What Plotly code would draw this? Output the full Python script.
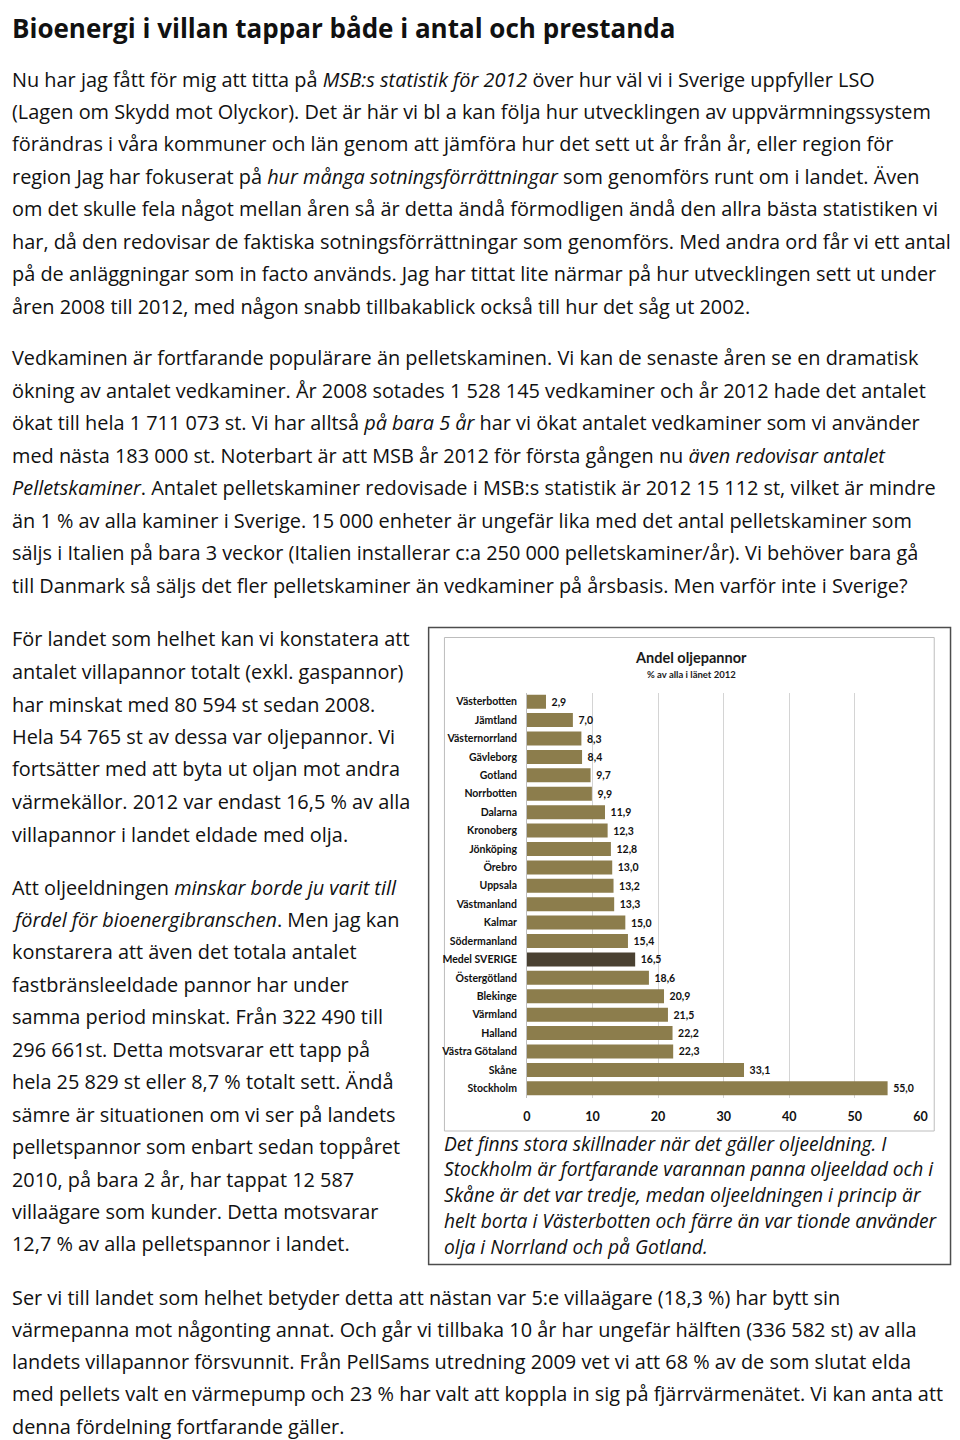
import plotly.graph_objects as go

# page is 960x1440; the browser puts an 8px body margin round the figure
PAGE_OFF = 8
W, H = 960 - PAGE_OFF, 1440 - PAGE_OFF

# ---------------- data ----------------
categories = ["Västerbotten", "Jämtland", "Västernorrland", "Gävleborg", "Gotland",
              "Norrbotten", "Dalarna", "Kronoberg", "Jönköping", "Örebro", "Uppsala",
              "Västmanland", "Kalmar", "Södermanland", "Medel SVERIGE", "Östergötland",
              "Blekinge", "Värmland", "Halland", "Västra Götaland", "Skåne", "Stockholm"]
values = [2.9, 7.0, 8.3, 8.4, 9.7, 9.9, 11.9, 12.3, 12.8, 13.0, 13.2, 13.3,
          15.0, 15.4, 16.5, 18.6, 20.9, 21.5, 22.2, 22.3, 33.1, 55.0]
highlight = "Medel SVERIGE"
x_ticks = [0, 10, 20, 30, 40, 50, 60]

chart_title = "Andel oljepannor"
chart_subtitle = "% av alla i länet 2012"

page_title = "Bioenergi i villan tappar både i antal och prestanda"
para_top = [
    "Nu har jag fått för mig att titta på <i>MSB:s statistik för 2012</i> över hur väl vi i Sverige uppfyller LSO",
    "(Lagen om Skydd mot Olyckor). Det är här vi bl a kan följa hur utvecklingen av uppvärmningssystem",
    "förändras i våra kommuner och län genom att jämföra hur det sett ut år från år, eller region för",
    "region Jag har fokuserat på <i>hur många sotningsförrättningar</i> som genomförs runt om i landet. Även",
    "om det skulle fela något mellan åren så är detta ändå förmodligen ändå den allra bästa statistiken vi",
    "har, då den redovisar de faktiska sotningsförrättningar som genomförs. Med andra ord får vi ett antal",
    "på de anläggningar som in facto används. Jag har tittat lite närmar på hur utvecklingen sett ut under",
    "åren 2008 till 2012, med någon snabb tillbakablick också till hur det såg ut 2002.",
]
para_2 = [
    "Vedkaminen är fortfarande populärare än pelletskaminen. Vi kan de senaste åren se en dramatisk",
    "ökning av antalet vedkaminer. År 2008 sotades 1 528 145 vedkaminer och år 2012 hade det antalet",
    "ökat till hela 1 711 073 st. Vi har alltså <i>på bara 5 år</i> har vi ökat antalet vedkaminer som vi använder",
    "med nästa 183 000 st. Noterbart är att MSB år 2012 för första gången nu <i>även redovisar antalet</i>",
    "<i>Pelletskaminer</i>. Antalet pelletskaminer redovisade i MSB:s statistik är 2012 15 112 st, vilket är mindre",
    "än 1 % av alla kaminer i Sverige. 15 000 enheter är ungefär lika med det antal pelletskaminer som",
    "säljs i Italien på bara 3 veckor (Italien installerar c:a 250 000 pelletskaminer/år). Vi behöver bara gå",
    "till Danmark så säljs det fler pelletskaminer än vedkaminer på årsbasis. Men varför inte i Sverige?",
]
left_a = [
    "För landet som helhet kan vi konstatera att",
    "antalet villapannor totalt (exkl. gaspannor)",
    "har minskat med 80 594 st sedan 2008.",
    "Hela 54 765 st av dessa var oljepannor. Vi",
    "fortsätter med att byta ut oljan mot andra",
    "värmekällor. 2012 var endast 16,5 % av alla",
    "villapannor i landet eldade med olja.",
]
left_b = [
    "Att oljeeldningen <i>minskar borde ju varit till</i>",
    "<i>fördel för bioenergibranschen</i>. Men jag kan",
    "konstarera att även det totala antalet",
    "fastbränsleeldade pannor har under",
    "samma period minskat. Från 322 490 till",
    "296 661st. Detta motsvarar ett tapp på",
    "hela 25 829 st eller 8,7 % totalt sett. Ändå",
    "sämre är situationen om vi ser på landets",
    "pelletspannor som enbart sedan toppåret",
    "2010, på bara 2 år, har tappat 12 587",
    "villaägare som kunder. Detta motsvarar",
    "12,7 % av alla pelletspannor i landet.",
]
caption = [
    "Det finns stora skillnader när det gäller oljeeldning. I",
    "Stockholm är fortfarande varannan panna oljeeldad och i",
    "Skåne är det var tredje, medan oljeeldningen i princip är",
    "helt borta i Västerbotten och färre än var tionde använder",
    "olja i Norrland och på Gotland.",
]
para_bottom = [
    "Ser vi till landet som helhet betyder detta att nästan var 5:e villaägare (18,3 %) har bytt sin",
    "värmepanna mot någonting annat. Och går vi tillbaka 10 år har ungefär hälften (336 582 st) av alla",
    "landets villapannor försvunnit. Från PellSams utredning 2009 vet vi att 68 % av de som slutat elda",
    "med pellets valt en värmepump och 23 % har valt att koppla in sig på fjärrvärmenätet. Vi kan anta att",
    "denna fördelning fortfarande gäller.",
]

# ---------------- helpers (page pixel -> paper) ----------------
def px(x):
    return (x - PAGE_OFF) / W

def py(y):
    return 1 - (y - PAGE_OFF) / H

BODY = "Open Sans, Noto Sans, sans-serif"
CHART = "Lato, Roboto, Liberation Sans, sans-serif"
TXT = "#111111"

annotations = []

def add_line(text, x, y, size, family=BODY, bold=False, italic=False, color=TXT, yanchor="middle"):
    t = text
    if italic:
        t = "<i>" + t + "</i>"
    annotations.append(dict(
        text=t, x=px(x), y=py(y), xref="paper", yref="paper",
        xanchor="left", yanchor=yanchor, showarrow=False,
        font=dict(family=family, size=size, color=color, weight="bold" if bold else "normal"),
    ))

LX = 6
# title: anchored to the top edge of the figure so it is not clipped
add_line(page_title, LX, PAGE_OFF, 26, bold=True, yanchor="top")

def block(lines, x0, y0, dy, size, italic=False):
    for i, ln in enumerate(lines):
        add_line(ln, x0, y0 + i * dy, size, italic=italic)

BS = 19.9
block(para_top, LX, 79, 32.43, BS)
block(para_2, LX, 358, 32.43, BS)
block(left_a, LX, 639, 32.5, BS)
block(left_b, LX, 887, 32.45, BS)
block(caption, 443, 1143, 25.75, 19.2, italic=True)
block(para_bottom, LX, 1297, 32.3, BS)

# chart title / subtitle
annotations.append(dict(text=chart_title, x=px(695), y=py(657), xref="paper", yref="paper",
                        xanchor="center", yanchor="middle", showarrow=False,
                        font=dict(family=CHART, size=14.5, color="#1a1a1a", weight="bold")))
annotations.append(dict(text=chart_subtitle, x=px(695), y=py(674), xref="paper", yref="paper",
                        xanchor="center", yanchor="middle", showarrow=False,
                        font=dict(family=CHART, size=9.5, color="#1a1a1a", weight="bold")))

# ---------------- chart ----------------
bar_colors = ["#4A4131" if c == highlight else "#8C7D4C" for c in categories]
labels = [f"{v:.1f}".replace(".", ",") for v in values]

fig = go.Figure(go.Bar(
    x=values, y=categories, orientation="h",
    marker=dict(color=bar_colors, line=dict(width=0)),
    text=labels, texttemplate=" %{text}", textposition="outside",
    textfont=dict(family=CHART, size=10.5, color="#111111", weight="bold"),
    cliponaxis=False, width=0.76,
))

shapes = [
    # outer dark frame
    dict(type="rect", xref="paper", yref="paper", x0=px(429.5), x1=px(957.5), y0=py(1264.5), y1=py(627.5),
         line=dict(color="#4d4d4d", width=1.5), fillcolor="rgba(0,0,0,0)", layer="above"),
    # inner chart frame
    dict(type="rect", xref="paper", yref="paper", x0=px(445.5), x1=px(941), y0=py(1131), y1=py(637.5),
         line=dict(color="#bdbdbd", width=1), fillcolor="rgba(0,0,0,0)", layer="below"),
]

fig.update_layout(
    width=W, height=H,
    margin=dict(l=0, r=0, t=0, b=0),
    paper_bgcolor="white", plot_bgcolor="white",
    showlegend=False,
    annotations=annotations,
    shapes=shapes,
    xaxis=dict(domain=[px(529), px(927)], range=[0, 60], tickvals=x_ticks,
               showgrid=True, gridcolor="#d4d4d4", gridwidth=1,
               zeroline=True, zerolinecolor="#bfbfbf", zerolinewidth=1,
               showline=False, ticks="", ticklabelstandoff=10,
               tickfont=dict(family=CHART, size=12.5, color="#111111", weight="bold"),
               fixedrange=True),
    yaxis=dict(domain=[py(1097.5), py(692.5)], autorange="reversed",
               showgrid=False, zeroline=False, showline=False, ticks="",
               ticklabelstandoff=9,
               tickfont=dict(family=CHART, size=10.5, color="#111111", weight="bold"),
               fixedrange=True),
    bargap=0.24,
)

fig.write_html("out.html")
